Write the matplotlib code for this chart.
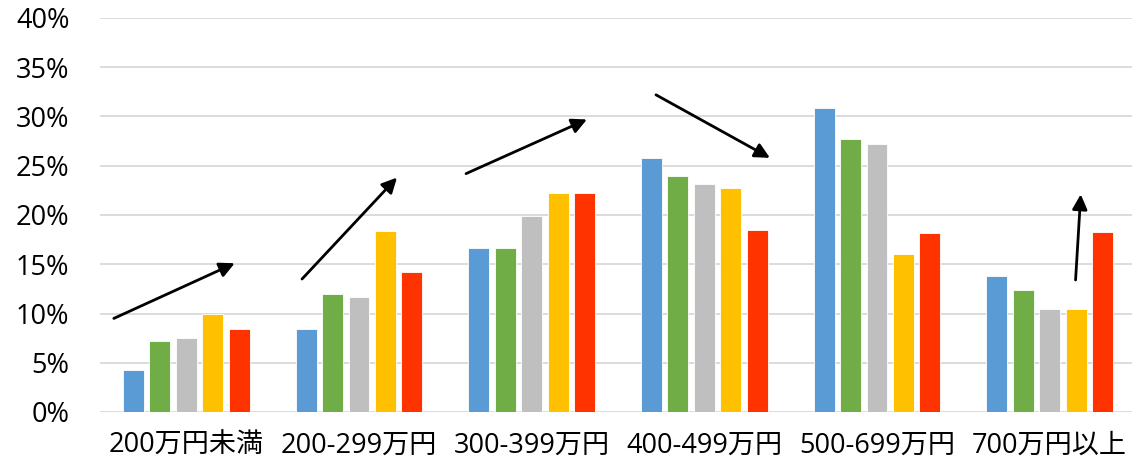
import matplotlib
matplotlib.use("Agg")
import matplotlib.pyplot as plt
import numpy as np

plt.rcParams['font.family'] = ['Open Sans', 'Noto Sans CJK JP', 'DejaVu Sans']

categories = ["200万円未満", "200-299万円", "300-399万円", "400-499万円", "500-699万円", "700万円以上"]
series_blue = [4.3, 8.4, 16.6, 25.8, 30.9, 13.8]
series_green = [7.2, 12.0, 16.6, 24.0, 27.7, 12.4]
series_gray = [7.5, 11.7, 19.9, 23.1, 27.2, 10.5]
series_yellow = [10.0, 18.4, 22.2, 22.7, 16.0, 10.5]
series_red = [8.4, 14.2, 22.2, 18.5, 18.2, 18.3]
yticks = [0, 5, 10, 15, 20, 25, 30, 35, 40]
ytick_labels = ["0%", "5%", "10%", "15%", "20%", "25%", "30%", "35%", "40%"]

# arrows: (x_start, y_start, x_end, y_end) in data coords
arrows = [
    (-0.42, 9.5, 0.28, 15.1),
    (0.67, 13.5, 1.22, 23.8),
    (1.62, 24.2, 2.32, 29.7),
    (2.72, 32.2, 3.38, 25.8),
    (5.15, 13.4, 5.18, 22.1),
]

series = [series_blue, series_green, series_gray, series_yellow, series_red]
colors = ["#5B9BD5", "#70AD47", "#BFBFBF", "#FFC000", "#FF3300"]

fig = plt.figure(figsize=(11.32, 4.68), dpi=100)
ax = fig.add_axes([100/1132, 1 - 412/468, 1036/1132, 394/468])

x = np.arange(len(categories))
pitch = 0.153
width = 0.121
for k, (vals, c) in enumerate(zip(series, colors)):
    ax.bar(x + (k - 2) * pitch, vals, width=width, color=c, edgecolor="white",
           linewidth=0.6, zorder=3)

ax.set_xlim(-0.5, len(categories) - 0.5)
ax.set_ylim(0, 40)
ax.set_yticks(yticks)
ax.set_yticklabels(ytick_labels, fontsize=19.5)
ax.set_xticks(x)
ax.set_xticklabels(categories, fontsize=19.5)
ax.tick_params(axis='both', length=0)
ax.tick_params(axis='y', pad=22)
ax.tick_params(axis='x', pad=14)
ax.grid(axis='y', color="#D9D9D9", linewidth=1.3, zorder=0)
for s in ax.spines.values():
    s.set_visible(False)

for (x0, y0, x1, y1) in arrows:
    ax.annotate("", xy=(x1, y1), xytext=(x0, y0),
                arrowprops=dict(arrowstyle="-|>,head_length=0.9,head_width=0.45",
                                color="black", lw=2, shrinkA=0, shrinkB=0),
                zorder=5)

fig.savefig("out.png", dpi=100)
